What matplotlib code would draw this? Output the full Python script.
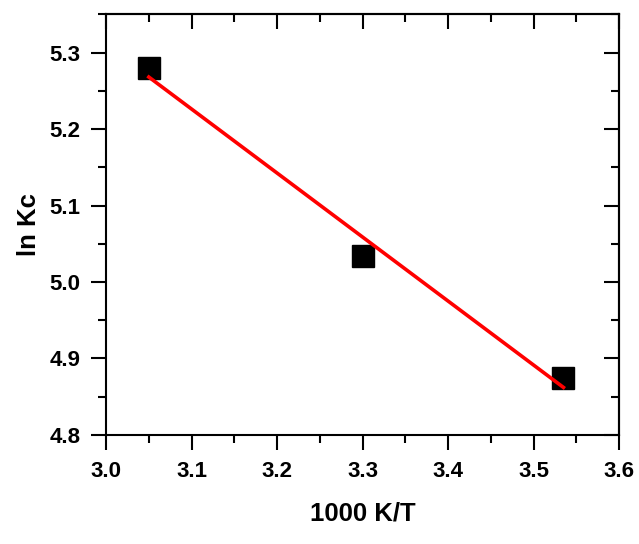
import numpy as np
import matplotlib.pyplot as plt
from matplotlib.ticker import MultipleLocator

plt.rcParams['font.family'] = ['Liberation Sans', 'DejaVu Sans']
plt.rcParams['font.weight'] = 'bold'

# data
inv_T = [3.05, 3.30, 3.535]
ln_kc = [5.280, 5.034, 4.875]

fig = plt.figure(figsize=(6.39, 5.44), dpi=100)
ax = fig.add_axes([0.166, 0.2004, 0.8027, 0.7733])

ax.plot(inv_T, ln_kc, 's', color='black', markersize=16.5, zorder=3)

# linear fit
k, b = np.polyfit(inv_T, ln_kc, 1)
xf = np.array([min(inv_T), max(inv_T)])
ax.plot(xf, k * xf + b, color='#ff0000', lw=2.6, zorder=4)

ax.set_xlim(3.0, 3.6)
ax.set_ylim(4.8, 5.35)
ax.xaxis.set_major_locator(MultipleLocator(0.1))
ax.xaxis.set_minor_locator(MultipleLocator(0.05))
ax.yaxis.set_major_locator(MultipleLocator(0.1))
ax.yaxis.set_minor_locator(MultipleLocator(0.05))
ax.set_yticks([4.8, 4.9, 5.0, 5.1, 5.2, 5.3])

for s in ax.spines.values():
    s.set_linewidth(1.5)

ax.tick_params(which='both', direction='out', width=1.5, labelsize=16, pad=8)
ax.tick_params(which='major', length=10.5)
ax.tick_params(which='minor', length=5.5)

# inward ticks on top and right
ax_top = ax.secondary_xaxis('top')
ax_top.xaxis.set_major_locator(MultipleLocator(0.1))
ax_top.xaxis.set_minor_locator(MultipleLocator(0.05))
ax_top.tick_params(which='both', direction='in', width=1.5, labeltop=False)
ax_top.tick_params(which='major', length=10.5)
ax_top.tick_params(which='minor', length=5.5)
ax_top.spines['top'].set_linewidth(1.5)
ax_r = ax.secondary_yaxis('right')
ax_r.yaxis.set_major_locator(MultipleLocator(0.1))
ax_r.yaxis.set_minor_locator(MultipleLocator(0.05))
ax_r.tick_params(which='both', direction='in', width=1.5, labelright=False)
ax_r.tick_params(which='major', length=10.5)
ax_r.tick_params(which='minor', length=5.5)
ax_r.spines['right'].set_linewidth(1.5)

ax.set_xlabel('1000 K/T', fontsize=18.5, fontweight='bold', labelpad=14)
ax.set_ylabel('ln Kc', fontsize=18.5, fontweight='bold', labelpad=6)

fig.savefig('out.png', dpi=100)
